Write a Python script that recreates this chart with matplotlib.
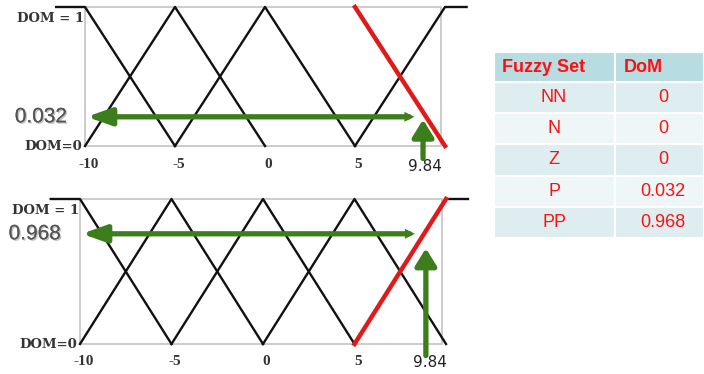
import matplotlib.pyplot as plt
import matplotlib.patheffects as pe
from matplotlib.patches import Rectangle

# membership functions (breakpoints of each fuzzy set)
set_names = ['NN', 'N', 'Z', 'P', 'PP']
set_x = [[-11.6, -10, -5], [-10, -5, 0], [-5, 0, 5], [0, 5, 10], [5, 10, 11.2]]
set_y = [[1, 1, 0], [0, 1, 0], [0, 1, 0], [0, 1, 0], [0, 1, 1]]
x_ticks = [-10, -5, 0, 5]

x_input = 9.84
dom_values = ['0', '0', '0', '0.032', '0.968']
panel_labels = ['0.032', '0.968']
panel_red = ['P', 'PP']

green = '#3c7d1c'
red = '#e0191b'

fig = plt.figure(figsize=(7.04, 3.74), dpi=100)


def px_axes(l, t, r, b):
    return fig.add_axes([l / 704, 1 - b / 374, (r - l) / 704, (b - t) / 374])


def draw_panel(ax, red_set, label, arrow_y, vx, v_top, v_bottom, lab_x, lab_y):
    ax.set_xlim(-10, 10)
    ax.set_ylim(0, 1)
    ax.axis('off')
    ax.add_patch(Rectangle((-10, 0), 19.8, 1, fill=False, ec='#c4c4c4', lw=1.2, clip_on=False))
    for name, xs, ys in zip(set_names, set_x, set_y):
        if name == red_set:
            continue
        ax.plot(xs, ys, color='#111111', lw=1.7, clip_on=False)
    i = set_names.index(red_set)
    if red_set == 'PP':
        ax.plot(set_x[i][1:], set_y[i][1:], color='#111111', lw=1.7, clip_on=False)
        ax.plot(set_x[i][:2], set_y[i][:2], color=red, lw=3.2, clip_on=False, zorder=3)
    else:
        ax.plot(set_x[i][1:], set_y[i][1:], color=red, lw=3.2, clip_on=False, zorder=3)

    tick_font = dict(family='Liberation Serif', weight='bold', color='#333333')
    dom_font = dict(family='DejaVu Serif', weight='bold', color='#333333')
    for t in x_ticks:
        ax.text(t + 0.2, lab_y, str(t), ha='center', va='center', fontsize=11, **tick_font)
    ax.text(-10.05, 0.92, 'DOM = 1', ha='right', va='center', fontsize=9.5, **dom_font)
    ax.text(-10.15, 0.0, 'DOM=0', ha='right', va='center', fontsize=9.5, **dom_font)
    ax.text(lab_x, lab_y - 0.01, f'{x_input}', ha='center', va='center', fontsize=11,
            family='DejaVu Sans', color='#222222')

    ax.text(-13.9, arrow_y, label, ha='left', va='center', fontsize=15,
            family='Liberation Sans', color='#555555',
            path_effects=[pe.withSimplePatchShadow(offset=(1, -1), shadow_rgbFace='#999999', alpha=0.6),
                          pe.Normal()])

    # horizontal arrow (to the left, with a small head on the right)
    ax.annotate('', xy=(-9.9, arrow_y), xytext=(8.0, arrow_y),
                arrowprops=dict(arrowstyle='-|>,head_length=0.9,head_width=0.32', lw=3.8,
                                color=green, mutation_scale=16, shrinkA=0, shrinkB=0),
                annotation_clip=False)
    ax.annotate('', xy=(8.3, arrow_y), xytext=(7.6, arrow_y),
                arrowprops=dict(arrowstyle='-|>,head_length=0.6,head_width=0.3', lw=0,
                                color=green, mutation_scale=12, shrinkA=0, shrinkB=0),
                annotation_clip=False)
    # vertical arrow up from the input value
    ax.annotate('', xy=(vx, v_top), xytext=(vx, v_bottom),
                arrowprops=dict(arrowstyle='-|>,head_length=0.65,head_width=0.4', lw=3.8,
                                color=green, mutation_scale=16, shrinkA=0, shrinkB=0),
                annotation_clip=False)


ax1 = px_axes(85, 7, 445, 146)
draw_panel(ax1, panel_red[0], panel_labels[0], 0.21, 8.78, 0.19, -0.09, 8.9, -0.135)

ax2 = px_axes(80, 199, 446, 344)
draw_panel(ax2, panel_red[1], panel_labels[1], 0.76, 8.9, 0.66, -0.08, 9.1, -0.12)

# DoM table
tax = fig.add_axes([494 / 704, 1 - 240 / 374, 210 / 704, 188 / 374])
tax.set_xlim(0, 210)
tax.set_ylim(188, 0)
tax.axis('off')
row_h = 31.2
header_h = 30
cell_font = dict(fontsize=13, family='Liberation Sans', color='#ff1010')
tax.add_patch(Rectangle((0, 0), 121, header_h, fc='#b7dce1', ec='white', lw=1.5))
tax.add_patch(Rectangle((121, 0), 89, header_h, fc='#b7dce1', ec='white', lw=1.5))
tax.text(8, header_h / 2, 'Fuzzy Set', ha='left', va='center', weight='bold', **cell_font)
tax.text(130, header_h / 2, 'DoM', ha='left', va='center', weight='bold', **cell_font)
for k, (name, val) in enumerate(zip(set_names, dom_values)):
    y0 = header_h + k * row_h
    fc = '#deeef0' if k % 2 == 0 else '#eff6f8'
    tax.add_patch(Rectangle((0, y0), 121, row_h, fc=fc, ec='white', lw=1.5))
    tax.add_patch(Rectangle((121, y0), 89, row_h, fc=fc, ec='white', lw=1.5))
    tax.text(60, y0 + row_h / 2, name, ha='center', va='center', **cell_font)
    tax.text(169, y0 + row_h / 2, val, ha='center', va='center', **cell_font)

fig.savefig('out.png', dpi=100)
